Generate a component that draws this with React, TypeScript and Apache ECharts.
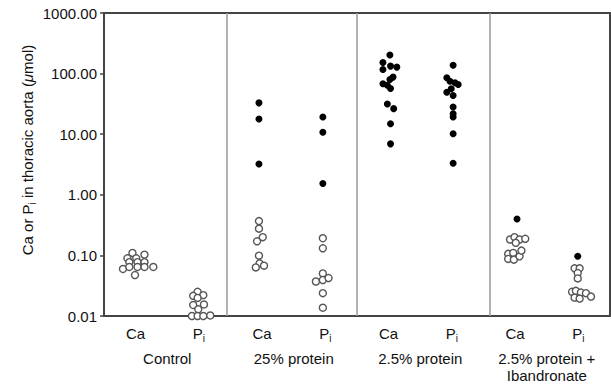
import React, { useEffect, useRef } from "react";
import * as echarts from "echarts";

// ---- data ----
const columnLabels = ["Ca", "Pi", "Ca", "Pi", "Ca", "Pi", "Ca", "Pi"];
const groupLabels = ["Control", "25% protein", "2.5% protein", "2.5% protein +\nIbandronate"];
const yAxisMin = 0.01;
const yAxisMax = 1000;
// column centres and panel dividers, in x-axis units (0..8)
const columnCenters = [0.54, 1.49, 2.45, 3.46, 4.52, 5.52, 6.51, 7.49];
const panelDividers = [1.94, 4.0, 6.1];

// open circles (values in µmol) per column, with beeswarm offsets
const openValues = [
  [0.11, 0.103, 0.0896, 0.0896, 0.0774, 0.0774, 0.0774, 0.0597, 0.0644, 0.0644, 0.0644, 0.0644, 0.0474],
  [0.0251, 0.0215, 0.0221, 0.0199, 0.0152, 0.0155, 0.0129, 0.01, 0.01, 0.01, 0.0102],
  [0.368, 0.276, 0.2, 0.171, 0.099, 0.074, 0.0677, 0.0634],
  [0.192, 0.131, 0.0504, 0.0371, 0.0392, 0.0423, 0.0238, 0.0137],
  [],
  [],
  [0.183, 0.2, 0.183, 0.188, 0.161, 0.106, 0.11, 0.0875, 0.0851, 0.0966, 0.12],
  [0.0611, 0.0611, 0.0512, 0.0417, 0.0251, 0.026, 0.0244, 0.0238, 0.0209, 0.0201, 0.0194],
];
const openOffsets = [
  [-0.09, 0.1, -0.17, -0.03, -0.14, -0.01, 0.1, -0.24, -0.14, -0.01, 0.1, 0.24, -0.05],
  [-0.01, -0.08, 0.08, -0.01, -0.08, 0.09, 0.0, -0.1, -0.01, 0.08, 0.19],
  [0.0, 0.0, 0.06, -0.03, 0.0, 0.01, 0.08, -0.05],
  [0.0, 0.0, 0.0, -0.11, 0.0, 0.09, 0.0, 0.0],
  [],
  [],
  [-0.09, -0.02, 0.06, 0.15, 0.0, -0.12, -0.04, -0.12, -0.03, 0.06, 0.09],
  [-0.05, 0.03, 0.0, 0.0, -0.09, -0.03, 0.05, 0.13, 0.21, -0.05, 0.03],
];

// filled circles per column
const filledValues = [
  [],
  [],
  [32.9, 17.8, 3.22],
  [19.2, 10.8, 1.54],
  [203, 152, 133, 128, 117, 87.5, 80.1, 67.9, 64.4, 56.8, 31.6, 26.4, 14.9, 6.93],
  [137, 85.5, 75.0, 70.6, 66.2, 56.1, 49.3, 43.4, 28.2, 21.8, 19.2, 10.2, 3.31],
  [0.4],
  [0.097],
];
const filledOffsets = [
  [],
  [],
  [0, 0, 0],
  [0, 0, 0],
  [0, -0.11, 0.01, 0.11, -0.11, 0.05, 0, -0.11, -0.04, 0.01, -0.04, 0.06, 0.01, 0.01],
  [0, -0.1, -0.05, 0.03, 0.08, -0.03, -0.1, 0, 0, 0, 0, 0, 0],
  [0.02],
  [0],
];

const FONT = "'Liberation Sans', Arial, Helvetica, sans-serif";

function buildPoints(values: number[][], offsets: number[][]) {
  const pts: number[][] = [];
  values.forEach((col, ci) => {
    col.forEach((v, i) => {
      pts.push([columnCenters[ci] + (offsets[ci][i] || 0), v]);
    });
  });
  return pts;
}

export default function App() {
  const ref = useRef<HTMLDivElement>(null);
  useEffect(() => {
    if (!ref.current) return;
    const chart = echarts.init(ref.current, null, { renderer: "svg" });
    const option: any = {
      animation: false,
      backgroundColor: "#ffffff",
      textStyle: { fontFamily: FONT },
      grid: {
        left: 104,
        right: 1,
        top: 13,
        bottom: 72,
        show: true,
        borderColor: "#444",
        borderWidth: 2,
        backgroundColor: "transparent",
      },
      xAxis: [
        { type: "value", min: 0, max: 8, show: false, position: "bottom" },
        {
          type: "category",
          position: "bottom",
          data: columnLabels,
          axisLine: { show: false },
          axisTick: { show: false },
          splitLine: { show: false },
          axisLabel: {
            interval: 0,
            margin: 7,
            color: "#111",
            fontFamily: FONT,
            formatter: (v: string) => (v === "Pi" ? "{p|P}{sub|i}" : "{n|" + v + "}"),
            rich: {
              n: { fontSize: 15, lineHeight: 20, fontFamily: FONT, color: "#111" },
              p: { fontSize: 15, lineHeight: 20, fontFamily: FONT, color: "#111" },
              sub: { fontSize: 10, lineHeight: 10, verticalAlign: "bottom", fontFamily: FONT, color: "#111" },
            },
          },
        },
        {
          type: "category",
          position: "bottom",
          offset: 26,
          data: groupLabels,
          axisLine: { show: false },
          axisTick: { show: false },
          splitLine: { show: false },
          axisLabel: {
            interval: 0,
            margin: 8,
            color: "#111",
            fontSize: 15,
            lineHeight: 17,
            fontFamily: FONT,
          },
        },
      ],
      yAxis: {
        type: "log",
        logBase: 10,
        min: yAxisMin,
        max: yAxisMax,
        axisLine: { show: true, lineStyle: { color: "#444", width: 2 } },
        axisTick: { show: true, length: 4, lineStyle: { color: "#444", width: 1.5 } },
        splitLine: { show: false },
        minorTick: { show: false },
        axisLabel: {
          margin: 7,
          fontSize: 15,
          color: "#111",
          fontFamily: FONT,
          formatter: (v: number) => Number(v).toFixed(2),
        },
      },
      graphic: [
        {
          type: "text",
          x: 27,
          y: 150,
          rotation: Math.PI / 2,
          style: {
            text: "{t|Ca or P}{sub|i}{t| in thoracic aorta (}{it|\u03bc}{t|mol)}",
            align: "center",
            verticalAlign: "middle",
            rich: {
              t: { fontSize: 15, lineHeight: 20, fontFamily: FONT, fill: "#111" },
              it: { fontSize: 15, lineHeight: 20, fontFamily: FONT, fontStyle: "italic", fill: "#111" },
              sub: { fontSize: 10, lineHeight: 10, verticalAlign: "bottom", fontFamily: FONT, fill: "#111" },
            },
          },
        },
      ],
      series: [
        {
          name: "open",
          type: "scatter",
          xAxisIndex: 0,
          yAxisIndex: 0,
          symbol: "circle",
          symbolSize: 7,
          itemStyle: { color: "#ffffff", borderColor: "#555", borderWidth: 1.4, opacity: 1 },
          data: buildPoints(openValues, openOffsets),
          z: 3,
          markLine: {
            silent: true,
            symbol: ["none", "none"],
            label: { show: false },
            lineStyle: { color: "#9a9a9a", width: 1.5, type: "solid" },
            data: panelDividers.map((x) => ({ xAxis: x })),
          },
        },
        {
          name: "filled",
          type: "scatter",
          xAxisIndex: 0,
          yAxisIndex: 0,
          symbol: "circle",
          symbolSize: 7,
          itemStyle: { color: "#000", opacity: 1 },
          data: buildPoints(filledValues, filledOffsets),
          z: 4,
        },
      ],
    };
    chart.setOption(option);
    return () => chart.dispose();
  }, []);
  return (
    <div
      ref={ref}
      style={{ position: "absolute", left: 0, top: 0, width: 611, height: 388 }}
    />
  );
}
